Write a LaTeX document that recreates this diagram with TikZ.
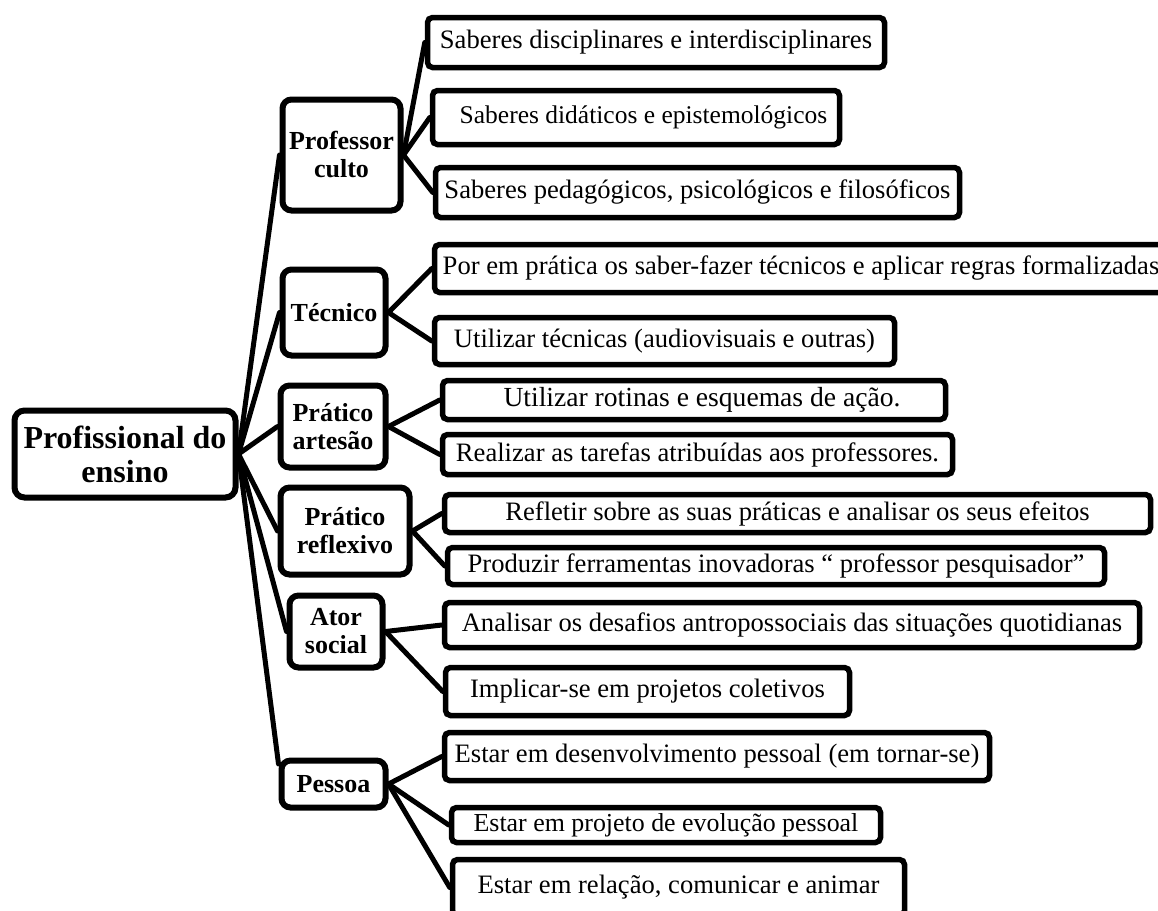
\documentclass[tikz,border=0pt]{standalone}
\usepackage{fontspec}
\setmainfont{Liberation Serif}
\begin{document}
\begin{tikzpicture}[x=1pt,y=-1pt,
  root/.style={draw, line width=6pt, rounded corners=10pt, fill=white, inner sep=0pt, align=center, font=\bfseries\fontsize{32}{34}\selectfont},
  mid/.style={draw, line width=6pt, rounded corners=9pt, fill=white, inner sep=0pt, align=center, font=\bfseries\fontsize{26}{28}\selectfont},
  leaf/.style={draw, line width=5.5pt, rounded corners=5pt, fill=white, inner sep=0pt, font=\fontsize{26.6}{30}\selectfont},
  link/.style={line width=5pt, line cap=round}]
\useasboundingbox (0,0) rectangle (1158,910);
\clip (0,0) rectangle (1158,910);
% root
\node[root, minimum width=221pt, minimum height=87pt] (main) at (125,454) {Profissional do\\ensino};
% level 2
\node[mid, minimum width=118pt, minimum height=111pt] (pc) at (341.5,155) {Professor\\culto};
\node[mid, minimum width=103pt, minimum height=86pt] (tec) at (334,312.5) {Técnico};
\node[mid, minimum width=105pt, minimum height=82pt] (art) at (333,426.5) {Prático\\artesão};
\node[mid, minimum width=129pt, minimum height=87pt] (ref) at (345,531) {Prático\\reflexivo};
\node[mid, minimum width=93pt, minimum height=72pt] (ator) at (336,631.5) {Ator\\social};
\node[mid, minimum width=104pt, minimum height=47pt] (pes) at (333.5,784) {Pessoa};
% leaves
\node[leaf, minimum width=457pt, minimum height=50pt] (b1) at (656,42.5) {Saberes disciplinares e interdisciplinares};
\node[leaf, minimum width=407pt, minimum height=54pt] (b2) at (636,117.5) {\hspace{15pt}\fontsize{25.5}{28}\selectfont Saberes didáticos e epistemológicos};
\node[leaf, minimum width=524pt, minimum height=50pt] (b3) at (697.5,192.5) {Saberes pedagógicos, psicológicos e filosóficos};
\node[leaf, minimum width=733pt, minimum height=48pt] (b4) at (801,268.5) {Por em prática os saber-fazer técnicos e aplicar regras formalizadas};
\node[leaf, minimum width=460pt, minimum height=47pt] (b5) at (664.5,341) {Utilizar técnicas (audiovisuais e outras)};
\node[leaf, minimum width=503pt, minimum height=39pt] (b6) at (694,400) {\hspace{16pt}\fontsize{27.6}{30}\selectfont Utilizar rotinas e esquemas de ação.};
\node[leaf, minimum width=510pt, minimum height=40pt] (b7) at (697.5,454.5) {Realizar as tarefas atribuídas aos professores.};
\node[leaf, minimum width=706pt, minimum height=38pt] (b8) at (797.5,513.5) {Refletir sobre as suas práticas e analisar os seus efeitos};
\node[leaf, minimum width=657pt, minimum height=37pt] (b9) at (776,566) {Produzir ferramentas inovadoras “ professor pesquisador”};
\node[leaf, minimum width=695pt, minimum height=45pt] (b10) at (792,625) {Analisar os desafios antropossociais das situações quotidianas};
\node[leaf, minimum width=404pt, minimum height=48pt] (b11) at (647.5,691.5) {Implicar-se em projetos coletivos};
\node[leaf, minimum width=545pt, minimum height=48pt] (b12) at (717,756.5) {Estar em desenvolvimento pessoal (em tornar-se)};
\node[leaf, minimum width=429pt, minimum height=35pt] (b13) at (666,825) {\fontsize{25.9}{28}\selectfont Estar em projeto de evolução pessoal};
\node[leaf, minimum width=452pt, minimum height=56pt] (b14) at (678.5,887.5) {Estar em relação, comunicar e animar};
% connectors
\draw[link] (main.east) -- (pc.west);
\draw[link] (main.east) -- (tec.west);
\draw[link] (main.east) -- (art.west);
\draw[link] (main.east) -- (ref.west);
\draw[link] (main.east) -- (ator.west);
\draw[link] (main.east) -- (pes.160);
\draw[link] (pc.east) -- (b1.west);
\draw[link] (pc.east) -- (b2.west);
\draw[link] (pc.east) -- (b3.west);
\draw[link] (tec.east) -- (b4.west);
\draw[link] (tec.east) -- (b5.west);
\draw[link] (art.east) -- (b6.west);
\draw[link] (art.east) -- (b7.west);
\draw[link] (ref.east) -- (b8.west);
\draw[link] (ref.east) -- (b9.west);
\draw[link] (ator.east) -- (b10.west);
\draw[link] (ator.east) -- (b11.west);
\draw[link] (pes.east) -- (b12.west);
\draw[link] (pes.east) -- (b13.west);
\draw[link] (pes.east) -- (b14.west);
\end{tikzpicture}
\end{document}
